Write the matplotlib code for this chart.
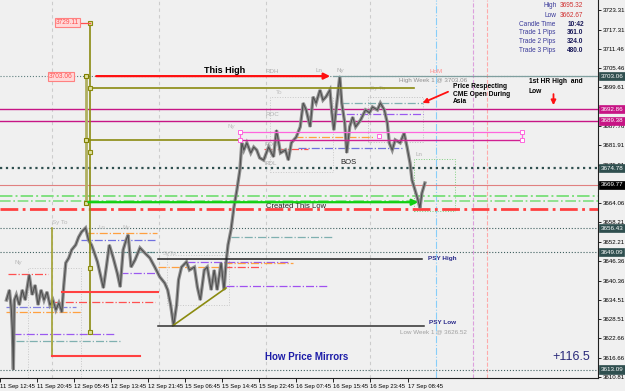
import matplotlib.pyplot as plt
import matplotlib.transforms as mtransforms
from matplotlib.patches import Rectangle

plt.rcParams['font.family'] = ['Liberation Sans', 'DejaVu Sans']
narrow = ['Liberation Sans Narrow', 'DejaVu Sans Condensed', 'Liberation Sans']

# ---- data --------------------------------------------------------------
# bar number from left edge of the window, and price at that bar
bar_no = [0, 3, 5, 6, 7, 8, 10, 13, 16, 19, 23, 26, 29, 32, 35, 38, 41, 44, 47,
          50, 53, 56, 58, 60, 63, 66, 70, 73, 76, 80, 83, 86, 89, 92, 95, 98,
          101, 104, 108, 112, 115, 118, 121, 123, 126, 130, 135, 140, 145, 150,
          155, 160, 163, 166, 169, 172, 174, 177, 182, 185, 190, 193, 196, 200,
          203, 207, 210, 213, 217, 220, 222, 224, 227, 230, 233, 236, 238, 240,
          243, 247, 250, 253, 256, 260, 265, 270, 273, 277, 282, 285, 288, 293,
          297, 300, 303, 307, 310, 313, 317, 320, 323, 327, 329, 331, 334, 337,
          339, 342, 344, 347, 350, 353, 358, 363, 367, 370, 375, 378, 382, 385,
          387, 390, 393, 398, 402, 405, 408, 410, 413, 416, 418, 420, 423]
price = [3634.4, 3637.5, 3631.4, 3625.2, 3613.1, 3634.4, 3636.0, 3632.9, 3637.5,
         3634.4, 3642.1, 3636.0, 3639.0, 3632.9, 3637.5, 3634.4, 3636.9, 3632.9,
         3634.4, 3631.4, 3633.5, 3630.7, 3639.0, 3645.8, 3647.3, 3649.8, 3651.3,
         3653.7, 3655.3, 3656.5, 3652.8, 3651.3, 3648.8, 3646.1, 3642.1, 3638.1,
         3644.5, 3651.3, 3647.3, 3642.7, 3638.4, 3649.8, 3652.8, 3654.4, 3644.5,
         3646.7, 3650.4, 3648.8, 3647.3, 3644.5, 3641.5, 3639.6, 3637.5, 3632.9,
         3626.5, 3632.9, 3640.6, 3644.5, 3646.1, 3643.6, 3644.5, 3638.4, 3634.4,
         3643.6, 3644.5, 3637.5, 3643.6, 3637.5, 3645.8, 3637.5, 3645.8, 3651.3,
         3655.9, 3662.9, 3668.2, 3674.3, 3682.6, 3680.4, 3682.6, 3679.5, 3681.3,
         3680.4, 3678.0, 3677.3, 3681.3, 3678.3, 3686.5, 3679.5, 3680.4, 3677.3,
         3682.6, 3684.4, 3687.5, 3694.8, 3692.7, 3687.5, 3696.7, 3694.8, 3698.8,
         3695.7, 3696.7, 3698.8, 3691.8, 3686.5, 3694.8, 3703.06, 3694.8, 3688.7,
         3679.5, 3687.5, 3690.5, 3687.5, 3689.6, 3692.7, 3691.8, 3693.6, 3692.7,
         3694.8, 3692.7, 3688.7, 3682.6, 3680.4, 3683.5, 3682.6, 3685.6, 3681.3,
         3676.4, 3671.2, 3668.2, 3665.1, 3662.67, 3667.2, 3670.3]

price_ticks = [3723.31, 3717.31, 3711.46, 3705.46, 3699.61, 3693.61, 3687.76,
               3681.91, 3675.91, 3670.06, 3664.06, 3658.21, 3652.21, 3646.36,
               3640.36, 3634.51, 3628.51, 3622.66, 3616.66, 3610.81]
hidden_ticks = [3693.61, 3670.06]   # fully covered by the level tags
time_labels = ['11 Sep 12:45', '11 Sep 20:45', '12 Sep 05:45', '12 Sep 13:45',
               '12 Sep 21:45', '15 Sep 06:45', '15 Sep 14:45', '15 Sep 22:45',
               '16 Sep 07:45', '16 Sep 15:45', '16 Sep 23:45', '17 Sep 08:45']

# levels tagged on the price scale
axis_levels = [3703.06, 3692.86, 3689.38, 3674.78, 3669.77, 3656.43, 3649.09, 3613.09]
axis_level_colors = ['#2f4f4f', '#c71585', '#c71585', '#2f4f4f', '#000000',
                     '#2f4f4f', '#2f4f4f', '#2f4f4f']

week_high = 3703.06
week_low = 3626.52
psy_high = 3647.0
psy_low = 3626.5
info_rows = [('Candle Time', '10:42'), ('Trade 1 Pips', '361.0'),
             ('Trade 2 Pips', '324.0'), ('Trade 3 Pips', '480.0')]
day_high, day_low = 3695.32, 3662.67

# short session lines: start bar, end bar, price, colour
session_lines = [(2, 42, 3642.4, '#ff5050'), (7, 110, 3624.0, '#9b59f0'),
                 (10, 115, 3621.9, '#7fb0b0'), (0, 75, 3630.7, '#ffa040'),
                 (0, 70, 3632.3, '#8080e0'), (46, 150, 3633.8, '#ff5050'),
                 (115, 150, 3642.7, '#9b59f0'), (80, 152, 3655.0, '#ffa040'),
                 (75, 150, 3652.8, '#7070e0'), (115, 152, 3649.1, '#7fb0b0'),
                 (153, 225, 3644.5, '#ffa040'), (183, 285, 3646.1, '#9b59f0'),
                 (220, 290, 3645.8, '#ffa040'), (220, 257, 3644.5, '#ff5050'),
                 (222, 325, 3638.7, '#a050f0'), (227, 330, 3653.7, '#7fb0b0'),
                 (292, 372, 3684.4, '#ffa040'), (295, 400, 3681.0, '#7070e0'),
                 (260, 305, 3680.7, '#ff5050'), (338, 421, 3694.8, '#7fb0b0'),
                 (330, 421, 3691.4, '#9b59f0')]
# dotted session boxes: bar0, bar1, low, high, colour
session_boxes = [(412, 453, 3661.7, 3677.6, '#80d080'), (366, 421, 3682.9, 3696.7, '#c0c0c0'),
                 (266, 330, 3673.7, 3696.7, '#c8c8c8'), (162, 225, 3632.9, 3648.2, '#c8c8c8'),
                 (22, 75, 3610.5, 3644.2, '#c8c8c8')]

# ---- figure -------------------------------------------------------------
bg = '#f0f0f0'
fig = plt.figure(figsize=(6.25, 3.91), dpi=100, facecolor=bg)
ax = fig.add_axes([0, 13 / 391, 598 / 625, 378 / 391], facecolor=bg)
ax.set_xlim(0, 598)
ax.set_ylim(3610.5, 3726.4)
ry = mtransforms.blended_transform_factory(ax.transAxes, ax.transData)

# vertical separators
for vx in [46, 154, 262, 368]:
    ax.axvline(vx, color='#cccccc', lw=0.8, ls=(0, (3, 3)), zorder=1)
ax.axvline(434, color='#87cefa', lw=0.8, ls='-.', zorder=1)
ax.axvline(472, color='#dda0dd', lw=0.8, ls='--', zorder=1)
ax.axvline(486, color='#ffaaaa', lw=0.8, ls='--', zorder=1)

for x0, x1, lo, hi, c in session_boxes:
    ax.add_patch(Rectangle((x0, lo), x1 - x0, hi - lo, fill=False, ec=c, lw=0.7, ls=':', zorder=1))
for x0, x1, y, c in session_lines:
    ax.plot([x0, x1], [y, y], color=c, lw=0.9, ls='-.', zorder=2)

# full width levels
ax.axhline(week_high, color='#5f7f7f', lw=0.8, ls=':', zorder=2)
ax.axhline(3692.86, color='#c71585', lw=1.0, zorder=3)
ax.axhline(3689.38, color='#c71585', lw=1.0, zorder=3)
ax.axhline(3674.78, color='#2f4f4f', lw=1.6, ls=':', zorder=3)
ax.axhline(3669.77, color='#e08080', lw=0.8, zorder=2)
ax.axhline(3666.4, color='#80e080', lw=1.4, ls='-.', zorder=2)
ax.axhline(3664.9, color='#80e080', lw=1.2, ls='-.', zorder=2)
ax.axhline(3662.2, color='#ff4040', lw=2.0, ls='-.', zorder=2)
for lv in [3656.43, 3649.09, 3613.09]:
    ax.axhline(lv, color='#3f5f5f', lw=0.8, ls=':', zorder=2)

# price
ax.plot(bar_no, price, color='#909090', lw=2.4, zorder=4, solid_joinstyle='miter')
ax.plot(bar_no, price, color='#505050', lw=0.8, zorder=5)

# drawn objects
olive = '#8b8b10'
ax.plot([80, 80], [3703.1, 3664.2], color='#b0b060', lw=2.0, zorder=6)
ax.plot([84, 84], [3719.35, 3624.6], color=olive, lw=1.2, zorder=6)
ax.plot([84, 412], [3699.4, 3699.4], color=olive, lw=1.2, zorder=6)
ax.plot([80, 236], [3683.5, 3683.5], color=olive, lw=1.2, zorder=6)
ax.plot([46, 46], [3656.5, 3617.3], color='#a0a030', lw=1.2, zorder=6)
ax.plot([168, 222], [psy_low, 3638.1], color=olive, lw=1.2, zorder=6)
ax.plot([84] * 5, [3719.35, 3699.4, 3679.8, 3644.2, 3624.6], ls='none', marker='s',
        ms=3, mfc='#e0e0a0', mec=olive, mew=0.8, zorder=7)
ax.plot([80] * 3, [3703.1, 3683.5, 3664.2], ls='none', marker='s',
        ms=3, mfc='#e0e0a0', mec='#808000', mew=0.8, zorder=7)

ax.plot([46, 135], [3617.3, 3617.3], color='#ff4040', lw=1.5, zorder=6)
ax.plot([56, 153], [3636.9, 3636.9], color='#ff4040', lw=1.5, zorder=6)
ax.plot([153, 420], [psy_high, psy_high], color='#202020', lw=1.1, zorder=6)
ax.plot([153, 422], [psy_low, psy_low], color='#303030', lw=1.1, zorder=6)

ax.add_patch(Rectangle((236, 3683.5), 285, 2.4, fill=False, ec='#ff66dd', lw=0.9, zorder=6))
ax.plot([236, 521], [3683.5, 3683.5], color='#d02090', lw=0.9, zorder=6)
ax.plot([236, 236, 521, 521, 377], [3685.9, 3683.5, 3685.9, 3683.5, 3684.7], ls='none',
        marker='s', ms=2.5, mfc='white', mec='#ff66dd', mew=0.7, zorder=7)

ax.annotate('', xy=(330, week_high), xytext=(88, week_high),
            arrowprops=dict(arrowstyle='-|>', color='#ff1010', lw=1.6, mutation_scale=9), zorder=7)
ax.plot([330, 598], [week_high, week_high], color='#7f9f9f', lw=0.9, zorder=6)
ax.annotate('', xy=(419, 3664.4), xytext=(80, 3664.4),
            arrowprops=dict(arrowstyle='-|>', color='#10d010', lw=1.6, mutation_scale=9), zorder=7)
ax.annotate('', xy=(418, 3694.5), xytext=(449, 3698.6),
            arrowprops=dict(arrowstyle='-|>', color='#ff1010', lw=1.3, mutation_scale=7))
ax.annotate('', xy=(553, 3693.3), xytext=(553, 3698.4),
            arrowprops=dict(arrowstyle='-|>', color='#ff1010', lw=1.3, mutation_scale=7))

# texts
ax.text(221, 3704.9, 'This High', fontsize=6.5, fontweight='bold', ha='center', va='center')
ax.text(346, 3676.7, 'BOS', fontsize=5.5, ha='center', va='center', color='#202020')
ax.text(293, 3663.2, 'Created This Low', fontsize=5.5, ha='center', va='center', color='#202020')
ax.text(426, psy_high, 'PSY High', fontsize=4.6, fontweight='bold', ha='left', va='center', color='#2a2a8a')
ax.text(427, 3627.4, 'PSY Low', fontsize=4.6, fontweight='bold', ha='left', va='center', color='#2a2a8a')
ax.text(398, 3624.6, 'Low Week 1 @ %.2f' % week_low, fontsize=4.5, ha='left', va='center', color='#a0a0a0')
ax.text(397, 3701.6, 'High Week 1 @ %.2f' % week_high, fontsize=4.5, ha='left', va='center', color='#909090')
ax.text(303, 3617.0, 'How Price Mirrors', fontsize=7, fontweight='bold', ha='center', va='center', color='#1c1ca8')
ax.text(571, 3617.0, '+116.5', fontsize=9, ha='center', va='center', color='#2a2a7a')
ax.text(451, 3700.8, 'Price Respecting\nCME Open During\nAsia', fontsize=4.8, fontweight='bold',
        ha='left', va='top', linespacing=1.05)
ax.text(528, 3702.6, '1st HR High  and\nLow', fontsize=4.8, fontweight='bold',
        ha='left', va='top', linespacing=1.6)

for lbl, x, y, c in [('RDH', 262, 3704.6, '#b0b0b0'), ('Ln', 312, 3704.9, '#b0b0b0'),
                     ('Ny', 334, 3704.9, '#b0b0b0'), ('HoM', 428, 3704.6, '#ff9090'),
                     ('To', 272, 3697.9, '#c0c0c0'), ('Sy To', 368, 3699.4, '#c0c0c0'),
                     ('ROC', 262, 3691.4, '#b0b0b0'), ('RDO', 261, 3682.0, '#b0b0b0'),
                     ('RDL', 261, 3676.4, '#b0b0b0'), ('Ny', 223, 3687.5, '#c0c0c0'),
                     ('Ln', 414, 3678.9, '#b0b0b0'), ('Sy To', 46, 3658.3, '#b8b8b8'),
                     ('Ln', 93, 3656.5, '#c0c0c0'), ('Ny', 117, 3656.5, '#c0c0c0'),
                     ('Ny', 8, 3645.8, '#b8b8b8'), ('SyTo', 158, 3648.8, '#c0c0c0')]:
    ax.text(x, y, lbl, fontsize=4.5, color=c, ha='left', va='center')

# object price tags on the left
ax.text(62, 3719.35, '3729.11', fontsize=4.8, family=narrow, color='#ff5050', ha='center', va='center',
        bbox=dict(boxstyle='square,pad=0.15', fc='#ffd8d8', ec='#ff8080', lw=0.8), zorder=8)
ax.plot([73, 84], [3719.35, 3719.35], color='#ff5050', lw=0.9, zorder=7)
ax.text(55, week_high, '3703.06', fontsize=4.8, family=narrow, color='#ff5050', ha='center', va='center',
        bbox=dict(boxstyle='square,pad=0.15', fc='#ffd8d8', ec='#ff8080', lw=0.8), zorder=8)

# info panel
fs_info = 4.7
ax.text(556, 3724.6, 'High', fontsize=fs_info, color='#3a3a9a', ha='right', va='center')
ax.text(559, 3724.6, '%.2f' % day_high, fontsize=fs_info, color='#d03030', ha='left', va='center')
ax.text(556, 3721.8, 'Low', fontsize=fs_info, color='#3a3a9a', ha='right', va='center')
ax.text(559, 3721.8, '%.2f' % day_low, fontsize=fs_info, color='#d03030', ha='left', va='center')
for i, (lbl, val) in enumerate(info_rows):
    yy = 3719.0 - i * 2.65
    ax.text(555, yy, lbl, fontsize=fs_info, color='#3a3a9a', ha='right', va='center')
    ax.text(567, yy, val, fontsize=fs_info, color='#1a1a5a', fontweight='bold', ha='left', va='center')

# axes
for s in ['top', 'left']:
    ax.spines[s].set_visible(False)
ax.spines['right'].set_color('#202020')
ax.spines['bottom'].set_color('#202020')
ax.yaxis.tick_right()
ax.set_yticks(price_ticks)
ax.set_yticklabels(['' if p in hidden_ticks else '%.2f' % p for p in price_ticks], family=narrow)
ax.tick_params(axis='y', labelsize=4.4, length=2, pad=1.5, width=0.6)
tick_bars = [-6.5 + 37.45 * i for i in range(len(time_labels))]
ax.set_xticks(tick_bars)
ax.set_xticklabels(time_labels, ha='left', family=narrow)
ax.tick_params(axis='x', labelsize=4.2, length=3, pad=1, width=0.6)

for lv, c in zip(axis_levels, axis_level_colors):
    ax.text(1.004, lv, '%.2f' % lv, transform=ry, fontsize=4.5, family=narrow, color='white', ha='left',
            va='center', clip_on=False, zorder=10,
            bbox=dict(boxstyle='square,pad=0.25', fc=c, ec=c, lw=0.5))

fig.savefig('out.png', dpi=100, facecolor=bg)
